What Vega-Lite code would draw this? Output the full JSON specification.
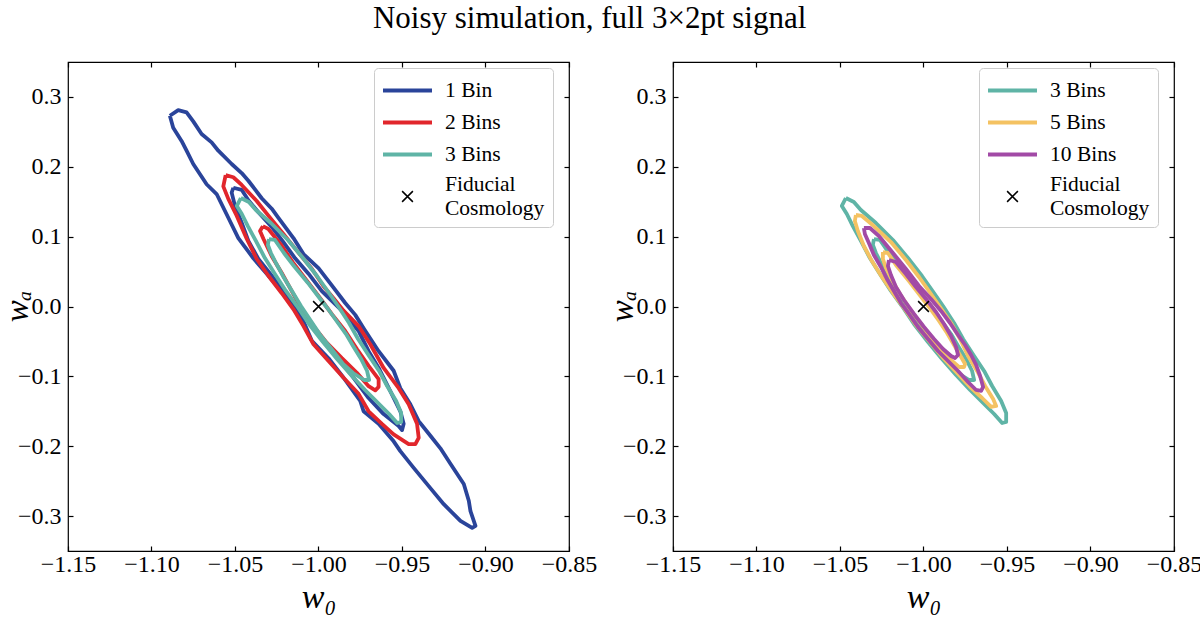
{
"$schema": "https://vega.github.io/schema/vega-lite/v6.json",
"background": "white",
"padding": {"left": 0, "top": 2, "right": 5, "bottom": 5},
"title": {"text": "Noisy simulation, full 3×2pt signal", "font": "Liberation Serif", "fontSize": 31, "fontWeight": "normal", "color": "black", "anchor": "middle", "offset": 26, "dx": -12},
"config": {
  "view": {"stroke": "black", "strokeWidth": 1.2},
  "axis": {"domain": false, "grid": false, "tickSize": -5, "tickColor": "black", "tickWidth": 1.2, "labelFlush": false, "labelOverlap": false, "labelFont": "Liberation Serif", "labelFontSize": 24, "labelColor": "black", "titleFont": "Liberation Serif", "titleFontSize": 33, "titleFontStyle": "italic", "titleFontWeight": "normal", "titleColor": "black"},
  "legend": {"orient": "none", "legendX": 306, "legendY": 6, "padding": 8, "strokeColor": "#cccccc", "cornerRadius": 4, "fillColor": "rgba(255,255,255,0.8)", "labelFont": "Liberation Serif", "labelFontSize": 21.5, "labelColor": "black", "labelOffset": 23, "symbolOffset": 11, "rowPadding": 7, "symbolSize": 600, "labelLimit": 300, "labelBaseline": "middle"}
},
"datasets": {
"fid": [{"s": "Fiducial Cosmology", "x": -1.0, "y": 0.0}],
"ct": [
{"s":"1 Bin","c":"o","i":1,"x":-1.089,"y":0.273},{"s":"1 Bin","c":"o","i":2,"x":-1.084,"y":0.281},{"s":"1 Bin","c":"o","i":3,"x":-1.079,"y":0.278},{"s":"1 Bin","c":"o","i":4,"x":-1.075,"y":0.265},{"s":"1 Bin","c":"o","i":5,"x":-1.070,"y":0.247},{"s":"1 Bin","c":"o","i":6,"x":-1.064,"y":0.235},{"s":"1 Bin","c":"o","i":7,"x":-1.060,"y":0.223},{"s":"1 Bin","c":"o","i":8,"x":-1.052,"y":0.204},{"s":"1 Bin","c":"o","i":9,"x":-1.046,"y":0.191},{"s":"1 Bin","c":"o","i":10,"x":-1.042,"y":0.180},{"s":"1 Bin","c":"o","i":11,"x":-1.034,"y":0.155},{"s":"1 Bin","c":"o","i":12,"x":-1.028,"y":0.140},{"s":"1 Bin","c":"o","i":13,"x":-1.024,"y":0.127},{"s":"1 Bin","c":"o","i":14,"x":-1.015,"y":0.098},{"s":"1 Bin","c":"o","i":15,"x":-1.009,"y":0.075},{"s":"1 Bin","c":"o","i":16,"x":-1.000,"y":0.055},{"s":"1 Bin","c":"o","i":17,"x":-0.991,"y":0.027},{"s":"1 Bin","c":"o","i":18,"x":-0.984,"y":0.005},{"s":"1 Bin","c":"o","i":19,"x":-0.978,"y":-0.012},{"s":"1 Bin","c":"o","i":20,"x":-0.973,"y":-0.031},{"s":"1 Bin","c":"o","i":21,"x":-0.964,"y":-0.064},{"s":"1 Bin","c":"o","i":22,"x":-0.955,"y":-0.092},{"s":"1 Bin","c":"o","i":23,"x":-0.951,"y":-0.117},{"s":"1 Bin","c":"o","i":24,"x":-0.945,"y":-0.140},{"s":"1 Bin","c":"o","i":25,"x":-0.940,"y":-0.164},{"s":"1 Bin","c":"o","i":26,"x":-0.933,"y":-0.185},{"s":"1 Bin","c":"o","i":27,"x":-0.927,"y":-0.203},{"s":"1 Bin","c":"o","i":28,"x":-0.921,"y":-0.225},{"s":"1 Bin","c":"o","i":29,"x":-0.913,"y":-0.254},{"s":"1 Bin","c":"o","i":30,"x":-0.910,"y":-0.278},{"s":"1 Bin","c":"o","i":31,"x":-0.909,"y":-0.293},{"s":"1 Bin","c":"o","i":32,"x":-0.906,"y":-0.314},{"s":"1 Bin","c":"o","i":33,"x":-0.908,"y":-0.317},{"s":"1 Bin","c":"o","i":34,"x":-0.915,"y":-0.307},{"s":"1 Bin","c":"o","i":35,"x":-0.925,"y":-0.283},{"s":"1 Bin","c":"o","i":36,"x":-0.933,"y":-0.260},{"s":"1 Bin","c":"o","i":37,"x":-0.943,"y":-0.231},{"s":"1 Bin","c":"o","i":38,"x":-0.951,"y":-0.207},{"s":"1 Bin","c":"o","i":39,"x":-0.955,"y":-0.193},{"s":"1 Bin","c":"o","i":40,"x":-0.964,"y":-0.168},{"s":"1 Bin","c":"o","i":41,"x":-0.973,"y":-0.150},{"s":"1 Bin","c":"o","i":42,"x":-0.975,"y":-0.135},{"s":"1 Bin","c":"o","i":43,"x":-0.985,"y":-0.102},{"s":"1 Bin","c":"o","i":44,"x":-0.994,"y":-0.074},{"s":"1 Bin","c":"o","i":45,"x":-1.004,"y":-0.049},{"s":"1 Bin","c":"o","i":46,"x":-1.009,"y":-0.021},{"s":"1 Bin","c":"o","i":47,"x":-1.015,"y":0.004},{"s":"1 Bin","c":"o","i":48,"x":-1.024,"y":0.027},{"s":"1 Bin","c":"o","i":49,"x":-1.031,"y":0.047},{"s":"1 Bin","c":"o","i":50,"x":-1.039,"y":0.069},{"s":"1 Bin","c":"o","i":51,"x":-1.048,"y":0.098},{"s":"1 Bin","c":"o","i":52,"x":-1.054,"y":0.127},{"s":"1 Bin","c":"o","i":53,"x":-1.061,"y":0.161},{"s":"1 Bin","c":"o","i":54,"x":-1.067,"y":0.175},{"s":"1 Bin","c":"o","i":55,"x":-1.075,"y":0.204},{"s":"1 Bin","c":"o","i":56,"x":-1.079,"y":0.223},{"s":"1 Bin","c":"o","i":57,"x":-1.082,"y":0.237},{"s":"1 Bin","c":"o","i":58,"x":-1.087,"y":0.256},{"s":"1 Bin","c":"o","i":59,"x":-1.089,"y":0.273},
{"s":"1 Bin","c":"n","i":1,"x":-1.051,"y":0.170},{"s":"1 Bin","c":"n","i":2,"x":-1.046,"y":0.167},{"s":"1 Bin","c":"n","i":3,"x":-1.042,"y":0.152},{"s":"1 Bin","c":"n","i":4,"x":-1.036,"y":0.135},{"s":"1 Bin","c":"n","i":5,"x":-1.028,"y":0.114},{"s":"1 Bin","c":"n","i":6,"x":-1.021,"y":0.092},{"s":"1 Bin","c":"n","i":7,"x":-1.014,"y":0.069},{"s":"1 Bin","c":"n","i":8,"x":-1.006,"y":0.047},{"s":"1 Bin","c":"n","i":9,"x":-0.998,"y":0.022},{"s":"1 Bin","c":"n","i":10,"x":-0.986,"y":-0.006},{"s":"1 Bin","c":"n","i":11,"x":-0.976,"y":-0.035},{"s":"1 Bin","c":"n","i":12,"x":-0.970,"y":-0.064},{"s":"1 Bin","c":"n","i":13,"x":-0.964,"y":-0.088},{"s":"1 Bin","c":"n","i":14,"x":-0.957,"y":-0.121},{"s":"1 Bin","c":"n","i":15,"x":-0.951,"y":-0.150},{"s":"1 Bin","c":"n","i":16,"x":-0.949,"y":-0.168},{"s":"1 Bin","c":"n","i":17,"x":-0.950,"y":-0.177},{"s":"1 Bin","c":"n","i":18,"x":-0.952,"y":-0.171},{"s":"1 Bin","c":"n","i":19,"x":-0.961,"y":-0.154},{"s":"1 Bin","c":"n","i":20,"x":-0.970,"y":-0.131},{"s":"1 Bin","c":"n","i":21,"x":-0.979,"y":-0.102},{"s":"1 Bin","c":"n","i":22,"x":-0.988,"y":-0.074},{"s":"1 Bin","c":"n","i":23,"x":-0.998,"y":-0.045},{"s":"1 Bin","c":"n","i":24,"x":-1.006,"y":-0.021},{"s":"1 Bin","c":"n","i":25,"x":-1.014,"y":0.001},{"s":"1 Bin","c":"n","i":26,"x":-1.021,"y":0.022},{"s":"1 Bin","c":"n","i":27,"x":-1.028,"y":0.044},{"s":"1 Bin","c":"n","i":28,"x":-1.036,"y":0.068},{"s":"1 Bin","c":"n","i":29,"x":-1.042,"y":0.094},{"s":"1 Bin","c":"n","i":30,"x":-1.046,"y":0.120},{"s":"1 Bin","c":"n","i":31,"x":-1.050,"y":0.144},{"s":"1 Bin","c":"n","i":32,"x":-1.052,"y":0.163},{"s":"1 Bin","c":"n","i":33,"x":-1.051,"y":0.170},
{"s":"2 Bins","c":"o","i":1,"x":-1.0556,"y":0.188},{"s":"2 Bins","c":"o","i":2,"x":-1.051,"y":0.185},{"s":"2 Bins","c":"o","i":3,"x":-1.046,"y":0.174},{"s":"2 Bins","c":"o","i":4,"x":-1.037,"y":0.151},{"s":"2 Bins","c":"o","i":5,"x":-1.030,"y":0.130},{"s":"2 Bins","c":"o","i":6,"x":-1.021,"y":0.104},{"s":"2 Bins","c":"o","i":7,"x":-1.013,"y":0.080},{"s":"2 Bins","c":"o","i":8,"x":-1.004,"y":0.054},{"s":"2 Bins","c":"o","i":9,"x":-0.997,"y":0.029},{"s":"2 Bins","c":"o","i":10,"x":-0.991,"y":0.012},{"s":"2 Bins","c":"o","i":11,"x":-0.985,"y":-0.006},{"s":"2 Bins","c":"o","i":12,"x":-0.976,"y":-0.028},{"s":"2 Bins","c":"o","i":13,"x":-0.969,"y":-0.054},{"s":"2 Bins","c":"o","i":14,"x":-0.961,"y":-0.088},{"s":"2 Bins","c":"o","i":15,"x":-0.952,"y":-0.117},{"s":"2 Bins","c":"o","i":16,"x":-0.946,"y":-0.140},{"s":"2 Bins","c":"o","i":17,"x":-0.941,"y":-0.168},{"s":"2 Bins","c":"o","i":18,"x":-0.940,"y":-0.188},{"s":"2 Bins","c":"o","i":19,"x":-0.942,"y":-0.197},{"s":"2 Bins","c":"o","i":20,"x":-0.946,"y":-0.197},{"s":"2 Bins","c":"o","i":21,"x":-0.955,"y":-0.183},{"s":"2 Bins","c":"o","i":22,"x":-0.962,"y":-0.168},{"s":"2 Bins","c":"o","i":23,"x":-0.970,"y":-0.150},{"s":"2 Bins","c":"o","i":24,"x":-0.976,"y":-0.125},{"s":"2 Bins","c":"o","i":25,"x":-0.985,"y":-0.102},{"s":"2 Bins","c":"o","i":26,"x":-0.994,"y":-0.078},{"s":"2 Bins","c":"o","i":27,"x":-1.003,"y":-0.054},{"s":"2 Bins","c":"o","i":28,"x":-1.009,"y":-0.028},{"s":"2 Bins","c":"o","i":29,"x":-1.015,"y":-0.004},{"s":"2 Bins","c":"o","i":30,"x":-1.022,"y":0.019},{"s":"2 Bins","c":"o","i":31,"x":-1.030,"y":0.044},{"s":"2 Bins","c":"o","i":32,"x":-1.037,"y":0.068},{"s":"2 Bins","c":"o","i":33,"x":-1.043,"y":0.097},{"s":"2 Bins","c":"o","i":34,"x":-1.049,"y":0.130},{"s":"2 Bins","c":"o","i":35,"x":-1.054,"y":0.154},{"s":"2 Bins","c":"o","i":36,"x":-1.057,"y":0.172},{"s":"2 Bins","c":"o","i":37,"x":-1.0556,"y":0.188},
{"s":"2 Bins","c":"n","i":1,"x":-1.0333,"y":0.115},{"s":"2 Bins","c":"n","i":2,"x":-1.030,"y":0.111},{"s":"2 Bins","c":"n","i":3,"x":-1.022,"y":0.087},{"s":"2 Bins","c":"n","i":4,"x":-1.015,"y":0.062},{"s":"2 Bins","c":"n","i":5,"x":-1.007,"y":0.037},{"s":"2 Bins","c":"n","i":6,"x":-0.999,"y":0.012},{"s":"2 Bins","c":"n","i":7,"x":-0.992,"y":-0.011},{"s":"2 Bins","c":"n","i":8,"x":-0.984,"y":-0.035},{"s":"2 Bins","c":"n","i":9,"x":-0.977,"y":-0.061},{"s":"2 Bins","c":"n","i":10,"x":-0.970,"y":-0.085},{"s":"2 Bins","c":"n","i":11,"x":-0.964,"y":-0.104},{"s":"2 Bins","c":"n","i":12,"x":-0.964,"y":-0.115},{"s":"2 Bins","c":"n","i":13,"x":-0.966,"y":-0.120},{"s":"2 Bins","c":"n","i":14,"x":-0.970,"y":-0.114},{"s":"2 Bins","c":"n","i":15,"x":-0.977,"y":-0.095},{"s":"2 Bins","c":"n","i":16,"x":-0.986,"y":-0.074},{"s":"2 Bins","c":"n","i":17,"x":-0.995,"y":-0.052},{"s":"2 Bins","c":"n","i":18,"x":-1.003,"y":-0.028},{"s":"2 Bins","c":"n","i":19,"x":-1.010,"y":-0.004},{"s":"2 Bins","c":"n","i":20,"x":-1.016,"y":0.022},{"s":"2 Bins","c":"n","i":21,"x":-1.022,"y":0.048},{"s":"2 Bins","c":"n","i":22,"x":-1.028,"y":0.072},{"s":"2 Bins","c":"n","i":23,"x":-1.033,"y":0.097},{"s":"2 Bins","c":"n","i":24,"x":-1.035,"y":0.108},{"s":"2 Bins","c":"n","i":25,"x":-1.0333,"y":0.115},
{"s":"3 Bins","c":"o","i":1,"x":-1.0465,"y":0.1553},{"s":"3 Bins","c":"o","i":2,"x":-1.0417,"y":0.1496},{"s":"3 Bins","c":"o","i":3,"x":-1.0375,"y":0.1381},{"s":"3 Bins","c":"o","i":4,"x":-1.0285,"y":0.1195},{"s":"3 Bins","c":"o","i":5,"x":-1.0183,"y":0.0952},{"s":"3 Bins","c":"o","i":6,"x":-1.0093,"y":0.0694},{"s":"3 Bins","c":"o","i":7,"x":-1.0009,"y":0.0437},{"s":"3 Bins","c":"o","i":8,"x":-0.9937,"y":0.0193},{"s":"3 Bins","c":"o","i":9,"x":-0.9883,"y":0.0007},{"s":"3 Bins","c":"o","i":10,"x":-0.9817,"y":-0.0236},{"s":"3 Bins","c":"o","i":11,"x":-0.9763,"y":-0.0465},{"s":"3 Bins","c":"o","i":12,"x":-0.9697,"y":-0.0708},{"s":"3 Bins","c":"o","i":13,"x":-0.9637,"y":-0.0923},{"s":"3 Bins","c":"o","i":14,"x":-0.9589,"y":-0.1138},{"s":"3 Bins","c":"o","i":15,"x":-0.9535,"y":-0.1353},{"s":"3 Bins","c":"o","i":16,"x":-0.9505,"y":-0.1524},{"s":"3 Bins","c":"o","i":17,"x":-0.9505,"y":-0.1653},{"s":"3 Bins","c":"o","i":18,"x":-0.9529,"y":-0.1668},{"s":"3 Bins","c":"o","i":19,"x":-0.9577,"y":-0.1539},{"s":"3 Bins","c":"o","i":20,"x":-0.9643,"y":-0.1381},{"s":"3 Bins","c":"o","i":21,"x":-0.9721,"y":-0.1195},{"s":"3 Bins","c":"o","i":22,"x":-0.9805,"y":-0.0980},{"s":"3 Bins","c":"o","i":23,"x":-0.9889,"y":-0.0751},{"s":"3 Bins","c":"o","i":24,"x":-0.9973,"y":-0.0508},{"s":"3 Bins","c":"o","i":25,"x":-1.0057,"y":-0.0250},{"s":"3 Bins","c":"o","i":26,"x":-1.0129,"y":0.0007},{"s":"3 Bins","c":"o","i":27,"x":-1.0195,"y":0.0222},{"s":"3 Bins","c":"o","i":28,"x":-1.0261,"y":0.0465},{"s":"3 Bins","c":"o","i":29,"x":-1.0321,"y":0.0694},{"s":"3 Bins","c":"o","i":30,"x":-1.0375,"y":0.0938},{"s":"3 Bins","c":"o","i":31,"x":-1.0423,"y":0.1152},{"s":"3 Bins","c":"o","i":32,"x":-1.0459,"y":0.1324},{"s":"3 Bins","c":"o","i":33,"x":-1.0489,"y":0.1439},{"s":"3 Bins","c":"o","i":34,"x":-1.0465,"y":0.1553},
{"s":"3 Bins","c":"n","i":1,"x":-1.0297,"y":0.0966},{"s":"3 Bins","c":"n","i":2,"x":-1.0261,"y":0.0952},{"s":"3 Bins","c":"n","i":3,"x":-1.0207,"y":0.0766},{"s":"3 Bins","c":"n","i":4,"x":-1.0147,"y":0.0580},{"s":"3 Bins","c":"n","i":5,"x":-1.0063,"y":0.0337},{"s":"3 Bins","c":"n","i":6,"x":-1.0003,"y":0.0150},{"s":"3 Bins","c":"n","i":7,"x":-0.9943,"y":-0.0036},{"s":"3 Bins","c":"n","i":8,"x":-0.9883,"y":-0.0236},{"s":"3 Bins","c":"n","i":9,"x":-0.9835,"y":-0.0394},{"s":"3 Bins","c":"n","i":10,"x":-0.9793,"y":-0.0565},{"s":"3 Bins","c":"n","i":11,"x":-0.9745,"y":-0.0751},{"s":"3 Bins","c":"n","i":12,"x":-0.9709,"y":-0.0923},{"s":"3 Bins","c":"n","i":13,"x":-0.9697,"y":-0.1052},{"s":"3 Bins","c":"n","i":14,"x":-0.9727,"y":-0.1052},{"s":"3 Bins","c":"n","i":15,"x":-0.9793,"y":-0.0952},{"s":"3 Bins","c":"n","i":16,"x":-0.9853,"y":-0.0823},{"s":"3 Bins","c":"n","i":17,"x":-0.9913,"y":-0.0637},{"s":"3 Bins","c":"n","i":18,"x":-0.9985,"y":-0.0422},{"s":"3 Bins","c":"n","i":19,"x":-1.0045,"y":-0.0207},{"s":"3 Bins","c":"n","i":20,"x":-1.0105,"y":0.0007},{"s":"3 Bins","c":"n","i":21,"x":-1.0159,"y":0.0222},{"s":"3 Bins","c":"n","i":22,"x":-1.0213,"y":0.0437},{"s":"3 Bins","c":"n","i":23,"x":-1.0255,"y":0.0623},{"s":"3 Bins","c":"n","i":24,"x":-1.0285,"y":0.0766},{"s":"3 Bins","c":"n","i":25,"x":-1.0303,"y":0.0880},{"s":"3 Bins","c":"n","i":26,"x":-1.0297,"y":0.0966},
{"s":"5 Bins","c":"o","i":1,"x":-1.0405,"y":0.1310},{"s":"5 Bins","c":"o","i":2,"x":-1.0369,"y":0.1296},{"s":"5 Bins","c":"o","i":3,"x":-1.0297,"y":0.1152},{"s":"5 Bins","c":"o","i":4,"x":-1.0195,"y":0.0923},{"s":"5 Bins","c":"o","i":5,"x":-1.0105,"y":0.0666},{"s":"5 Bins","c":"o","i":6,"x":-1.0027,"y":0.0422},{"s":"5 Bins","c":"o","i":7,"x":-0.9955,"y":0.0179},{"s":"5 Bins","c":"o","i":8,"x":-0.9901,"y":-0.0007},{"s":"5 Bins","c":"o","i":9,"x":-0.9835,"y":-0.0236},{"s":"5 Bins","c":"o","i":10,"x":-0.9781,"y":-0.0465},{"s":"5 Bins","c":"o","i":11,"x":-0.9733,"y":-0.0708},{"s":"5 Bins","c":"o","i":12,"x":-0.9679,"y":-0.0923},{"s":"5 Bins","c":"o","i":13,"x":-0.9631,"y":-0.1138},{"s":"5 Bins","c":"o","i":14,"x":-0.9583,"y":-0.1324},{"s":"5 Bins","c":"o","i":15,"x":-0.9565,"y":-0.1424},{"s":"5 Bins","c":"o","i":16,"x":-0.9595,"y":-0.1438},{"s":"5 Bins","c":"o","i":17,"x":-0.9649,"y":-0.1310},{"s":"5 Bins","c":"o","i":18,"x":-0.9715,"y":-0.1166},{"s":"5 Bins","c":"o","i":19,"x":-0.9793,"y":-0.0966},{"s":"5 Bins","c":"o","i":20,"x":-0.9877,"y":-0.0751},{"s":"5 Bins","c":"o","i":21,"x":-0.9961,"y":-0.0508},{"s":"5 Bins","c":"o","i":22,"x":-1.0045,"y":-0.0265},{"s":"5 Bins","c":"o","i":23,"x":-1.0117,"y":-0.0021},{"s":"5 Bins","c":"o","i":24,"x":-1.0183,"y":0.0193},{"s":"5 Bins","c":"o","i":25,"x":-1.0249,"y":0.0422},{"s":"5 Bins","c":"o","i":26,"x":-1.0309,"y":0.0651},{"s":"5 Bins","c":"o","i":27,"x":-1.0357,"y":0.0866},{"s":"5 Bins","c":"o","i":28,"x":-1.0393,"y":0.1081},{"s":"5 Bins","c":"o","i":29,"x":-1.0411,"y":0.1224},{"s":"5 Bins","c":"o","i":30,"x":-1.0405,"y":0.1310},
{"s":"5 Bins","c":"n","i":1,"x":-1.0243,"y":0.0780},{"s":"5 Bins","c":"n","i":2,"x":-1.0213,"y":0.0766},{"s":"5 Bins","c":"n","i":3,"x":-1.0165,"y":0.0594},{"s":"5 Bins","c":"n","i":4,"x":-1.0087,"y":0.0365},{"s":"5 Bins","c":"n","i":5,"x":-1.0027,"y":0.0179},{"s":"5 Bins","c":"n","i":6,"x":-0.9967,"y":-0.0007},{"s":"5 Bins","c":"n","i":7,"x":-0.9907,"y":-0.0207},{"s":"5 Bins","c":"n","i":8,"x":-0.9859,"y":-0.0379},{"s":"5 Bins","c":"n","i":9,"x":-0.9817,"y":-0.0551},{"s":"5 Bins","c":"n","i":10,"x":-0.9775,"y":-0.0723},{"s":"5 Bins","c":"n","i":11,"x":-0.9751,"y":-0.0823},{"s":"5 Bins","c":"n","i":12,"x":-0.9757,"y":-0.0866},{"s":"5 Bins","c":"n","i":13,"x":-0.9787,"y":-0.0866},{"s":"5 Bins","c":"n","i":14,"x":-0.9829,"y":-0.0780},{"s":"5 Bins","c":"n","i":15,"x":-0.9883,"y":-0.0651},{"s":"5 Bins","c":"n","i":16,"x":-0.9949,"y":-0.0465},{"s":"5 Bins","c":"n","i":17,"x":-1.0015,"y":-0.0250},{"s":"5 Bins","c":"n","i":18,"x":-1.0081,"y":-0.0036},{"s":"5 Bins","c":"n","i":19,"x":-1.0141,"y":0.0179},{"s":"5 Bins","c":"n","i":20,"x":-1.0189,"y":0.0379},{"s":"5 Bins","c":"n","i":21,"x":-1.0225,"y":0.0551},{"s":"5 Bins","c":"n","i":22,"x":-1.0243,"y":0.0680},{"s":"5 Bins","c":"n","i":23,"x":-1.0243,"y":0.0780},
{"s":"10 Bins","c":"o","i":1,"x":-1.0357,"y":0.1124},{"s":"10 Bins","c":"o","i":2,"x":-1.0321,"y":0.1124},{"s":"10 Bins","c":"o","i":3,"x":-1.0267,"y":0.1009},{"s":"10 Bins","c":"o","i":4,"x":-1.0183,"y":0.0766},{"s":"10 Bins","c":"o","i":5,"x":-1.0105,"y":0.0537},{"s":"10 Bins","c":"o","i":6,"x":-1.0027,"y":0.0294},{"s":"10 Bins","c":"o","i":7,"x":-0.9955,"y":0.0108},{"s":"10 Bins","c":"o","i":8,"x":-0.9895,"y":-0.0064},{"s":"10 Bins","c":"o","i":9,"x":-0.9841,"y":-0.0236},{"s":"10 Bins","c":"o","i":10,"x":-0.9793,"y":-0.0408},{"s":"10 Bins","c":"o","i":11,"x":-0.9751,"y":-0.0551},{"s":"10 Bins","c":"o","i":12,"x":-0.9715,"y":-0.0694},{"s":"10 Bins","c":"o","i":13,"x":-0.9685,"y":-0.0837},{"s":"10 Bins","c":"o","i":14,"x":-0.9661,"y":-0.0995},{"s":"10 Bins","c":"o","i":15,"x":-0.9643,"y":-0.1152},{"s":"10 Bins","c":"o","i":16,"x":-0.9655,"y":-0.1209},{"s":"10 Bins","c":"o","i":17,"x":-0.9685,"y":-0.1195},{"s":"10 Bins","c":"o","i":18,"x":-0.9733,"y":-0.1081},{"s":"10 Bins","c":"o","i":19,"x":-0.9793,"y":-0.0923},{"s":"10 Bins","c":"o","i":20,"x":-0.9853,"y":-0.0780},{"s":"10 Bins","c":"o","i":21,"x":-0.9913,"y":-0.0637},{"s":"10 Bins","c":"o","i":22,"x":-0.9973,"y":-0.0465},{"s":"10 Bins","c":"o","i":23,"x":-1.0033,"y":-0.0293},{"s":"10 Bins","c":"o","i":24,"x":-1.0087,"y":-0.0107},{"s":"10 Bins","c":"o","i":25,"x":-1.0135,"y":0.0050},{"s":"10 Bins","c":"o","i":26,"x":-1.0177,"y":0.0222},{"s":"10 Bins","c":"o","i":27,"x":-1.0219,"y":0.0394},{"s":"10 Bins","c":"o","i":28,"x":-1.0255,"y":0.0566},{"s":"10 Bins","c":"o","i":29,"x":-1.0297,"y":0.0737},{"s":"10 Bins","c":"o","i":30,"x":-1.0327,"y":0.0909},{"s":"10 Bins","c":"o","i":31,"x":-1.0351,"y":0.1038},{"s":"10 Bins","c":"o","i":32,"x":-1.0357,"y":0.1124},
{"s":"10 Bins","c":"n","i":1,"x":-1.0207,"y":0.0666},{"s":"10 Bins","c":"n","i":2,"x":-1.0165,"y":0.0637},{"s":"10 Bins","c":"n","i":3,"x":-1.0105,"y":0.0465},{"s":"10 Bins","c":"n","i":4,"x":-1.0045,"y":0.0279},{"s":"10 Bins","c":"n","i":5,"x":-0.9985,"y":0.0108},{"s":"10 Bins","c":"n","i":6,"x":-0.9925,"y":-0.0079},{"s":"10 Bins","c":"n","i":7,"x":-0.9877,"y":-0.0250},{"s":"10 Bins","c":"n","i":8,"x":-0.9835,"y":-0.0422},{"s":"10 Bins","c":"n","i":9,"x":-0.9805,"y":-0.0580},{"s":"10 Bins","c":"n","i":10,"x":-0.9793,"y":-0.0694},{"s":"10 Bins","c":"n","i":11,"x":-0.9811,"y":-0.0737},{"s":"10 Bins","c":"n","i":12,"x":-0.9835,"y":-0.0708},{"s":"10 Bins","c":"n","i":13,"x":-0.9883,"y":-0.0608},{"s":"10 Bins","c":"n","i":14,"x":-0.9937,"y":-0.0465},{"s":"10 Bins","c":"n","i":15,"x":-0.9997,"y":-0.0293},{"s":"10 Bins","c":"n","i":16,"x":-1.0057,"y":-0.0107},{"s":"10 Bins","c":"n","i":17,"x":-1.0117,"y":0.0093},{"s":"10 Bins","c":"n","i":18,"x":-1.0165,"y":0.0279},{"s":"10 Bins","c":"n","i":19,"x":-1.0195,"y":0.0451},{"s":"10 Bins","c":"n","i":20,"x":-1.0213,"y":0.0580},{"s":"10 Bins","c":"n","i":21,"x":-1.0207,"y":0.0666}
]},
"hconcat": [
{
 "width": 501, "height": 489,
 "layer": [
  {"data": {"name": "ct"}, "transform": [{"filter": "datum.s == '1 Bin'"}],
   "mark": {"type": "line", "strokeWidth": 3.8, "strokeJoin": "round", "clip": true},
   "encoding": {
    "x": {"field": "x", "type": "quantitative", "scale": {"domain": [-1.15, -0.85], "nice": false, "zero": false, "padding": 0}, "axis": {"orient": "bottom", "values": [-1.15, -1.1, -1.05, -1.0, -0.95, -0.9, -0.85], "format": ".2f", "title": "w₀", "labelPadding": 6, "titlePadding": 4, "titleFontSize": 34}},
    "y": {"field": "y", "type": "quantitative", "scale": {"domain": [-0.35, 0.35], "nice": false, "zero": false, "padding": 0}, "axis": {"orient": "left", "values": [-0.3, -0.2, -0.1, 0.0, 0.1, 0.2, 0.3], "format": ".1f", "title": "wₐ", "labelPadding": 12, "titleX": -50.5, "titleY": 244, "titleAngle": -90, "titleAlign": "center", "titleBaseline": "middle"}},
    "color": {"field": "s", "type": "nominal", "scale": {"domain": ["1 Bin", "2 Bins", "3 Bins", "Fiducial Cosmology"], "range": ["#2a449a", "#e1262c", "#5fb4a6", "#000000"]}, "legend": {"title": null, "labelExpr": "datum.label == 'Fiducial Cosmology' ? ['Fiducial', 'Cosmology'] : datum.label"}},
    "detail": {"field": "c"},
    "order": {"field": "i", "type": "quantitative"}
   }},
  {"data": {"name": "ct"}, "transform": [{"filter": "datum.s == '2 Bins'"}],
   "mark": {"type": "line", "strokeWidth": 3.8, "strokeJoin": "round", "clip": true},
   "encoding": {
    "x": {"field": "x", "type": "quantitative", "scale": {"domain": [-1.15, -0.85], "nice": false, "zero": false, "padding": 0}, "axis": null},
    "y": {"field": "y", "type": "quantitative", "scale": {"domain": [-0.35, 0.35], "nice": false, "zero": false, "padding": 0}, "axis": null},
    "color": {"field": "s", "type": "nominal"},
    "detail": {"field": "c"},
    "order": {"field": "i", "type": "quantitative"}
   }},
  {"data": {"name": "ct"}, "transform": [{"filter": "datum.s == '3 Bins'"}],
   "mark": {"type": "line", "strokeWidth": 3.8, "strokeJoin": "round", "clip": true},
   "encoding": {
    "x": {"field": "x", "type": "quantitative", "scale": {"domain": [-1.15, -0.85], "nice": false, "zero": false, "padding": 0}, "axis": null},
    "y": {"field": "y", "type": "quantitative", "scale": {"domain": [-0.35, 0.35], "nice": false, "zero": false, "padding": 0}, "axis": null},
    "color": {"field": "s", "type": "nominal"},
    "detail": {"field": "c"},
    "order": {"field": "i", "type": "quantitative"}
   }},
  {"data": {"name": "fid"},
   "mark": {"type": "point", "shape": "M-0.44,-0.44L0.44,0.44M0.44,-0.44L-0.44,0.44", "filled": false, "size": 600, "strokeWidth": 1.5, "color": "black", "opacity": 1},
   "encoding": {
    "x": {"field": "x", "type": "quantitative", "scale": {"domain": [-1.15, -0.85], "nice": false, "zero": false, "padding": 0}, "axis": null},
    "y": {"field": "y", "type": "quantitative", "scale": {"domain": [-0.35, 0.35], "nice": false, "zero": false, "padding": 0}, "axis": null}
   }},
  {"data": {"name": "fid"}, "transform": [{"filter": "false"}],
   "mark": {"type": "point", "filled": false, "size": 600, "opacity": 1},
   "encoding": {
    "x": {"field": "x", "type": "quantitative", "scale": {"domain": [-1.15, -0.85], "nice": false, "zero": false, "padding": 0}, "axis": {"orient": "top", "labels": false, "title": null, "values": [-1.15, -1.1, -1.05, -1.0, -0.95, -0.9, -0.85]}},
    "y": {"field": "y", "type": "quantitative", "scale": {"domain": [-0.35, 0.35], "nice": false, "zero": false, "padding": 0}, "axis": {"orient": "right", "labels": false, "title": null, "values": [-0.3, -0.2, -0.1, 0.0, 0.1, 0.2, 0.3]}},
    "color": {"field": "s", "type": "nominal"},
    "shape": {"field": "s", "type": "nominal", "scale": {"domain": ["1 Bin", "2 Bins", "3 Bins", "Fiducial Cosmology"], "range": ["M-2,0L2,0", "M-2,0L2,0", "M-2,0L2,0", "M-0.44,0.5L0.44,1.38M0.44,0.5L-0.44,1.38"]}},
    "strokeWidth": {"field": "s", "type": "nominal", "scale": {"type": "ordinal", "domain": ["1 Bin", "2 Bins", "3 Bins", "Fiducial Cosmology"], "range": [3.8, 3.8, 3.8, 1.5]}}
   }}
 ],
 "resolve": {"axis": {"x": "independent", "y": "independent"}}
},
{
 "width": 501, "height": 489,
 "layer": [
  {"data": {"name": "ct"}, "transform": [{"filter": "datum.s == '3 Bins'"}],
   "mark": {"type": "line", "strokeWidth": 3.8, "strokeJoin": "round", "clip": true},
   "encoding": {
    "x": {"field": "x", "type": "quantitative", "scale": {"domain": [-1.15, -0.85], "nice": false, "zero": false, "padding": 0}, "axis": {"orient": "bottom", "values": [-1.15, -1.1, -1.05, -1.0, -0.95, -0.9, -0.85], "format": ".2f", "title": "w₀", "labelPadding": 6, "titlePadding": 4, "titleFontSize": 34}},
    "y": {"field": "y", "type": "quantitative", "scale": {"domain": [-0.35, 0.35], "nice": false, "zero": false, "padding": 0}, "axis": {"orient": "left", "values": [-0.3, -0.2, -0.1, 0.0, 0.1, 0.2, 0.3], "format": ".1f", "title": "wₐ", "labelPadding": 12, "titleX": -50.5, "titleY": 244, "titleAngle": -90, "titleAlign": "center", "titleBaseline": "middle"}},
    "color": {"field": "s", "type": "nominal", "scale": {"domain": ["3 Bins", "5 Bins", "10 Bins", "Fiducial Cosmology"], "range": ["#5fb4a6", "#f4c262", "#a24aa6", "#000000"]}, "legend": {"title": null, "labelExpr": "datum.label == 'Fiducial Cosmology' ? ['Fiducial', 'Cosmology'] : datum.label"}},
    "detail": {"field": "c"},
    "order": {"field": "i", "type": "quantitative"}
   }},
  {"data": {"name": "ct"}, "transform": [{"filter": "datum.s == '5 Bins'"}],
   "mark": {"type": "line", "strokeWidth": 3.8, "strokeJoin": "round", "clip": true},
   "encoding": {
    "x": {"field": "x", "type": "quantitative", "scale": {"domain": [-1.15, -0.85], "nice": false, "zero": false, "padding": 0}, "axis": null},
    "y": {"field": "y", "type": "quantitative", "scale": {"domain": [-0.35, 0.35], "nice": false, "zero": false, "padding": 0}, "axis": null},
    "color": {"field": "s", "type": "nominal"},
    "detail": {"field": "c"},
    "order": {"field": "i", "type": "quantitative"}
   }},
  {"data": {"name": "ct"}, "transform": [{"filter": "datum.s == '10 Bins'"}],
   "mark": {"type": "line", "strokeWidth": 3.8, "strokeJoin": "round", "clip": true},
   "encoding": {
    "x": {"field": "x", "type": "quantitative", "scale": {"domain": [-1.15, -0.85], "nice": false, "zero": false, "padding": 0}, "axis": null},
    "y": {"field": "y", "type": "quantitative", "scale": {"domain": [-0.35, 0.35], "nice": false, "zero": false, "padding": 0}, "axis": null},
    "color": {"field": "s", "type": "nominal"},
    "detail": {"field": "c"},
    "order": {"field": "i", "type": "quantitative"}
   }},
  {"data": {"name": "fid"},
   "mark": {"type": "point", "shape": "M-0.44,-0.44L0.44,0.44M0.44,-0.44L-0.44,0.44", "filled": false, "size": 600, "strokeWidth": 1.5, "color": "black", "opacity": 1},
   "encoding": {
    "x": {"field": "x", "type": "quantitative", "scale": {"domain": [-1.15, -0.85], "nice": false, "zero": false, "padding": 0}, "axis": null},
    "y": {"field": "y", "type": "quantitative", "scale": {"domain": [-0.35, 0.35], "nice": false, "zero": false, "padding": 0}, "axis": null}
   }},
  {"data": {"name": "fid"}, "transform": [{"filter": "false"}],
   "mark": {"type": "point", "filled": false, "size": 600, "opacity": 1},
   "encoding": {
    "x": {"field": "x", "type": "quantitative", "scale": {"domain": [-1.15, -0.85], "nice": false, "zero": false, "padding": 0}, "axis": {"orient": "top", "labels": false, "title": null, "values": [-1.15, -1.1, -1.05, -1.0, -0.95, -0.9, -0.85]}},
    "y": {"field": "y", "type": "quantitative", "scale": {"domain": [-0.35, 0.35], "nice": false, "zero": false, "padding": 0}, "axis": {"orient": "right", "labels": false, "title": null, "values": [-0.3, -0.2, -0.1, 0.0, 0.1, 0.2, 0.3]}},
    "color": {"field": "s", "type": "nominal"},
    "shape": {"field": "s", "type": "nominal", "scale": {"domain": ["3 Bins", "5 Bins", "10 Bins", "Fiducial Cosmology"], "range": ["M-2,0L2,0", "M-2,0L2,0", "M-2,0L2,0", "M-0.44,0.5L0.44,1.38M0.44,0.5L-0.44,1.38"]}},
    "strokeWidth": {"field": "s", "type": "nominal", "scale": {"type": "ordinal", "domain": ["3 Bins", "5 Bins", "10 Bins", "Fiducial Cosmology"], "range": [3.8, 3.8, 3.8, 1.5]}}
   }}
 ],
 "resolve": {"axis": {"x": "independent", "y": "independent"}}
}
],
"spacing": 104,
"bounds": "flush",
"resolve": {"scale": {"color": "independent", "shape": "independent", "strokeWidth": "independent", "x": "independent", "y": "independent"}}
}
